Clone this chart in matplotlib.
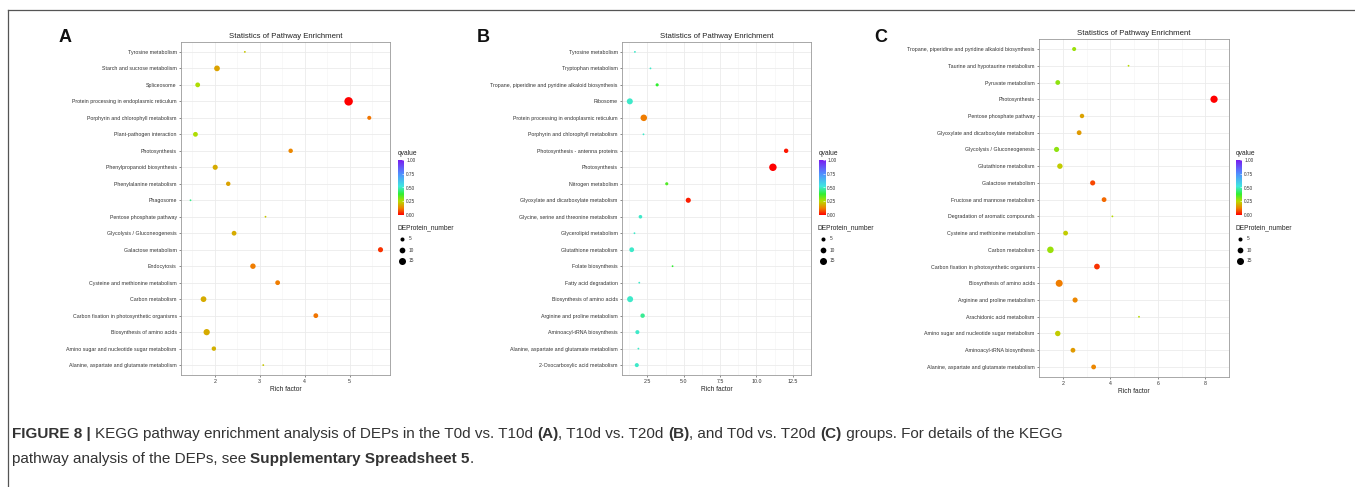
import numpy as np
import matplotlib
matplotlib.use("Agg")
import matplotlib.pyplot as plt
from matplotlib.colors import LinearSegmentedColormap

W, H = 1355, 487

# ---- panel A: T0d vs T10d (listed top -> bottom)
cats_a = ["Tyrosine metabolism", "Starch and sucrose metabolism", "Spliceosome",
          "Protein processing in endoplasmic reticulum", "Porphyrin and chlorophyll metabolism",
          "Plant-pathogen interaction", "Photosynthesis", "Phenylpropanoid biosynthesis",
          "Phenylalanine metabolism", "Phagosome", "Pentose phosphate pathway",
          "Glycolysis / Gluconeogenesis", "Galactose metabolism", "Endocytosis",
          "Cysteine and methionine metabolism", "Carbon metabolism",
          "Carbon fixation in photosynthetic organisms", "Biosynthesis of amino acids",
          "Amino sugar and nucleotide sugar metabolism",
          "Alanine, aspartate and glutamate metabolism"]
rich_a = [2.67, 2.05, 1.62, 4.98, 5.44, 1.57, 3.69, 2.01, 2.30, 1.46, 3.13,
          2.43, 5.69, 2.85, 3.40, 1.75, 4.25, 1.82, 1.98, 3.08]
q_a = [0.22, 0.17, 0.26, 0.00, 0.11, 0.26, 0.13, 0.18, 0.17, 0.45, 0.22,
       0.18, 0.05, 0.12, 0.12, 0.18, 0.11, 0.18, 0.19, 0.22]
num_a = [1, 10, 7, 22, 5, 7, 6, 8, 6, 1, 1, 7, 8, 9, 7, 10, 7, 12, 6, 1]

# ---- panel B: T10d vs T20d
cats_b = ["Tyrosine metabolism", "Tryptophan metabolism",
          "Tropane, piperidine and pyridine alkaloid biosynthesis", "Ribosome",
          "Protein processing in endoplasmic reticulum", "Porphyrin and chlorophyll metabolism",
          "Photosynthesis - antenna proteins", "Photosynthesis", "Nitrogen metabolism",
          "Glyoxylate and dicarboxylate metabolism", "Glycine, serine and threonine metabolism",
          "Glycerolipid metabolism", "Glutathione metabolism", "Folate biosynthesis",
          "Fatty acid degradation", "Biosynthesis of amino acids",
          "Arginine and proline metabolism", "Aminoacyl-tRNA biosynthesis",
          "Alanine, aspartate and glutamate metabolism", "2-Oxocarboxylic acid metabolism"]
rich_b = [1.64, 2.71, 3.17, 1.29, 2.25, 2.23, 12.04, 11.13, 3.83, 5.31,
          2.02, 1.61, 1.42, 4.23, 1.94, 1.31, 2.17, 1.81, 1.88, 1.77]
q_b = [0.50, 0.50, 0.38, 0.50, 0.12, 0.50, 0.02, 0.00, 0.35, 0.03,
       0.50, 0.50, 0.50, 0.38, 0.50, 0.50, 0.46, 0.50, 0.50, 0.50]
num_b = [1, 1, 3, 11, 13, 1, 6, 17, 3, 8, 4, 1, 7, 1, 1, 11, 6, 5, 1, 5]

# ---- panel C: T0d vs T20d
cats_c = ["Tropane, piperidine and pyridine alkaloid biosynthesis",
          "Taurine and hypotaurine metabolism", "Pyruvate metabolism", "Photosynthesis",
          "Pentose phosphate pathway", "Glyoxylate and dicarboxylate metabolism",
          "Glycolysis / Gluconeogenesis", "Glutathione metabolism", "Galactose metabolism",
          "Fructose and mannose metabolism", "Degradation of aromatic compounds",
          "Cysteine and methionine metabolism", "Carbon metabolism",
          "Carbon fixation in photosynthetic organisms", "Biosynthesis of amino acids",
          "Arginine and proline metabolism", "Arachidonic acid metabolism",
          "Amino sugar and nucleotide sugar metabolism", "Aminoacyl-tRNA biosynthesis",
          "Alanine, aspartate and glutamate metabolism"]
rich_c = [2.48, 4.77, 1.79, 8.37, 2.81, 2.69, 1.74, 1.88, 3.26, 3.74, 4.09,
          2.12, 1.48, 3.44, 1.85, 2.52, 5.21, 1.79, 2.43, 3.30]
q_c = [0.28, 0.25, 0.29, 0.00, 0.17, 0.16, 0.29, 0.23, 0.07, 0.10, 0.25,
       0.23, 0.28, 0.05, 0.12, 0.13, 0.25, 0.23, 0.16, 0.13]
num_c = [5, 1, 7, 16, 6, 7, 8, 9, 8, 7, 1, 7, 13, 10, 15, 8, 1, 9, 7, 7]

xticks_a = [2, 3, 4, 5]
xticks_b = [2.5, 5.0, 7.5, 10.0, 12.5]
xticks_c = [2, 4, 6, 8]
legend_nums = [5, 10, 15]
cbar_ticks = [0.0, 0.25, 0.5, 0.75, 1.0]

plt.rcParams['font.family'] = ['Liberation Sans', 'DejaVu Sans']

qcmap = LinearSegmentedColormap.from_list(
    "q", [(0, "#FF0000"), (0.12, "#F08000"), (0.25, "#B8DC00"), (0.38, "#30F030"),
          (0.52, "#40E8E0"), (0.75, "#5090FF"), (1, "#7A1CF0")])


def size_of(n):
    return 1.7 * np.asarray(n, dtype=float)


def px_rect(l, t, r, b):
    return [l / W, 1 - b / H, (r - l) / W, (b - t) / H]


fig = plt.figure(figsize=(W / 100, H / 100), dpi=100)
ov = fig.add_axes([0, 0, 1, 1], zorder=10)
ov.set_xlim(0, W)
ov.set_ylim(H, 0)
ov.axis("off")
ov.patch.set_alpha(0)


def panel(box, cats, rich, q, num, xticks, letter, letter_x, cb_x):
    l, t, r, b = box
    ax = fig.add_axes(px_rect(l, t, r, b))
    n = len(cats)
    ys = np.arange(n)[::-1]
    ax.scatter(rich, ys, s=size_of(num), c=q, cmap=qcmap, vmin=0, vmax=1,
               linewidths=0, zorder=3)
    lo, hi = min(rich), max(rich)
    pad = (hi - lo) * 0.05
    ax.set_xlim(lo - pad, hi + pad)
    ax.set_ylim(-0.6, n - 0.4)
    ax.set_yticks(ys)
    ax.set_yticklabels(cats, fontsize=3.8, color="#333333")
    ax.set_xticks(xticks)
    ax.set_xticklabels([("%g" % v if float(v).is_integer() and len(xticks) < 5 else "%.1f" % v)
                        for v in xticks], fontsize=3.8, color="#333333")
    mt = [(a + c) / 2 for a, c in zip(xticks[:-1], xticks[1:])]
    mt = [xticks[0] - (xticks[1] - xticks[0]) / 2] + mt + [xticks[-1] + (xticks[1] - xticks[0]) / 2]
    ax.set_xticks(mt, minor=True)
    ax.tick_params(which="major", length=1.6, width=0.4, color="#333333", pad=1.5)
    ax.tick_params(which="minor", length=0)
    ax.grid(which="major", color="#EBEBEB", linewidth=0.6, zorder=0)
    ax.grid(which="minor", axis="x", color="#F3F3F3", linewidth=0.4, zorder=0)
    ax.set_axisbelow(True)
    for sp in ax.spines.values():
        sp.set_color("#9A9A9A")
        sp.set_linewidth(0.6)
    ax.set_title("Statistics of Pathway Enrichment", fontsize=5.6, color="#222222", pad=3)
    ax.set_xlabel("Rich factor", fontsize=4.8, color="#222222", labelpad=1.5)

    ov.text(letter_x, 37, letter, fontsize=13, fontweight="bold", ha="center", va="center",
            color="#111111")

    # qvalue colour bar
    cb = fig.add_axes(px_rect(cb_x, 160, cb_x + 6, 215))
    grad = np.linspace(0, 1, 256).reshape(-1, 1)
    cb.imshow(grad, aspect="auto", cmap=qcmap, origin="lower", extent=(0, 1, 0, 1))
    cb.set_xticks([])
    cb.yaxis.tick_right()
    cb.set_yticks(cbar_ticks)
    cb.set_yticklabels(["%.2f" % v for v in cbar_ticks], fontsize=3.4, color="#333333")
    cb.tick_params(axis="y", length=1.2, width=0.4, color="white", pad=1.5, direction="in")
    for sp in cb.spines.values():
        sp.set_visible(False)
    ov.text(cb_x - 0.5, 157, "qvalue", fontsize=4.8, color="#222222", va="bottom")

    # size legend
    ov.text(cb_x - 1, 228, "DEProtein_number", fontsize=4.8, color="#222222", va="center")
    for i, v in enumerate(legend_nums):
        yy = 239 + 11 * i
        ov.scatter([cb_x + 4], [yy], s=size_of(v), c="black", linewidths=0)
        ov.text(cb_x + 11, yy, str(v), fontsize=3.4, color="#333333", va="center")
    return ax


panel((181, 42, 390, 375), cats_a, rich_a, q_a, num_a, xticks_a, "A", 65, 398)
panel((622, 42, 811, 375), cats_b, rich_b, q_b, num_b, xticks_b, "B", 483, 819)
panel((1039, 39, 1229, 377), cats_c, rich_c, q_c, num_c, xticks_c, "C", 881, 1236)

# frame lines
ov.plot([8, W], [10, 10], color="#555555", linewidth=0.9)
ov.plot([8, 8], [10, H], color="#555555", linewidth=0.9)

# caption
line1 = [("FIGURE 8 | ", "bold"),
         ("KEGG pathway enrichment analysis of DEPs in the T0d vs. T10d ", "normal"),
         ("(A)", "bold"), (", T10d vs. T20d ", "normal"), ("(B)", "bold"),
         (", and T0d vs. T20d ", "normal"), ("(C)", "bold"),
         (" groups. For details of the KEGG", "normal")]
line2 = [("pathway analysis of the DEPs, see ", "normal"),
         ("Supplementary Spreadsheet 5", "bold"), (".", "normal")]
for y0, parts in ((441, line1), (466, line2)):
    prev = None
    for s, wgt in parts:
        kw = dict(fontsize=11, fontweight=wgt, color="#333333")
        if prev is None:
            prev = ov.text(12, y0, s, va="bottom", ha="left", **kw)
        else:
            prev = ov.annotate(s, xy=(1, 0), xycoords=prev, va="bottom", ha="left", **kw)

fig.savefig("out.png", dpi=100)
